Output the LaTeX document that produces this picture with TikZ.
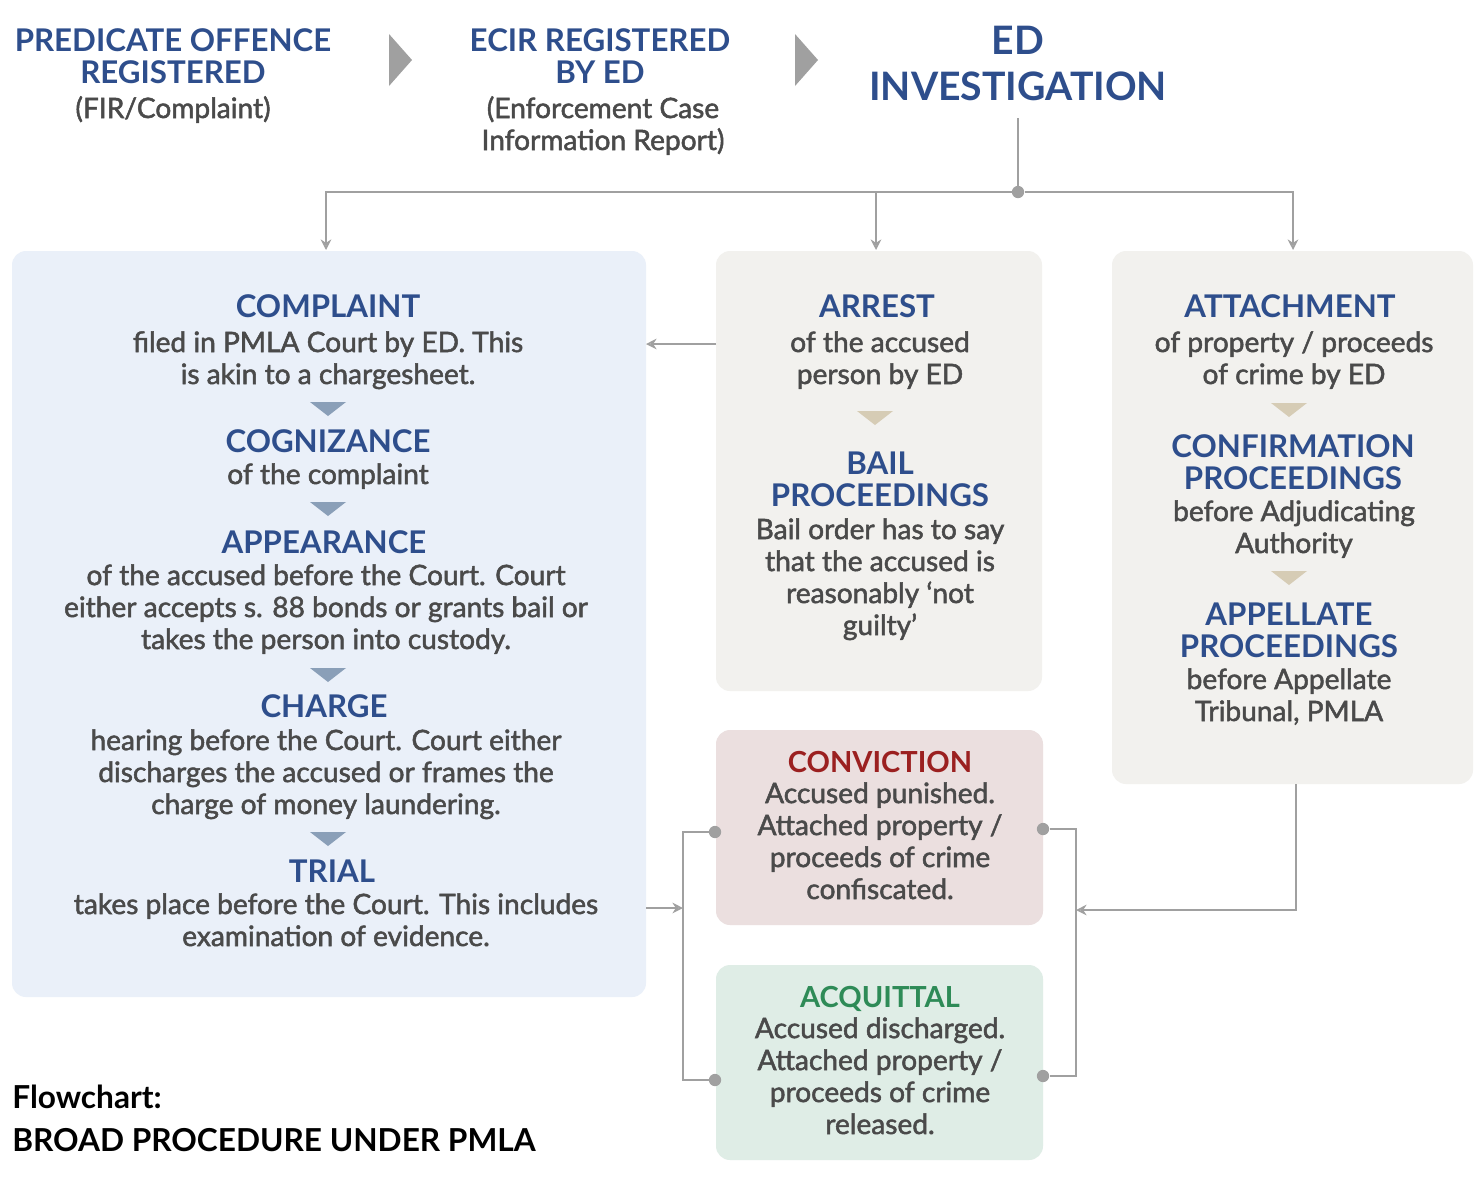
\documentclass[tikz,border=0pt]{standalone}
\usepackage{fontspec}
\setmainfont{Lato}
\usetikzlibrary{arrows.meta}
\usetikzlibrary{positioning}
\definecolor{hblue}{HTML}{2E4E8C}
\definecolor{txt}{HTML}{4A4A4A}
\definecolor{bluebg}{HTML}{EAF0F9}
\definecolor{graybg}{HTML}{F2F1EE}
\definecolor{redbg}{HTML}{EBDFDF}
\definecolor{greenbg}{HTML}{DFEDE6}
\definecolor{hred}{HTML}{9B2020}
\definecolor{hgreen}{HTML}{2E8B57}
\definecolor{triblue}{HTML}{8A9FB8}
\definecolor{tribeige}{HTML}{D6CCB5}
\definecolor{lgray}{HTML}{A0A0A0}
\tikzstyle{box}=[rounded corners=8pt]
\tikzstyle{head}=[anchor=base,align=center,text=hblue,font=\bfseries\fontsize{17.8}{18.2}\selectfont]
\tikzstyle{body}=[anchor=base,align=center,text=txt,font=\fontsize{16}{18.2}\selectfont\addfontfeatures{FakeBold=1.8}]
\tikzstyle{tran}=[draw=lgray,line width=1.4pt,-{Stealth[length=6pt,width=6pt,open]}]
\tikzstyle{wire}=[draw=lgray,line width=1.4pt]
\tikzstyle{dot}=[circle,fill=lgray,inner sep=0pt,minimum size=7pt]
\newcommand{\tri}[3]{\fill[#3] (#1-18,#2-7) -- (#1+18,#2-7) -- (#1,#2+7) -- cycle;}
\begin{document}
\begin{tikzpicture}[x=0.02cm,y=-0.02cm]
\useasboundingbox[fill=white] (0,0) rectangle (1484,1188);
% top row
\node[head] (pred) at (173,83) {PREDICATE OFFENCE\\REGISTERED};
\node[body] (fir) at (173,118) {(FIR/Complaint)};
\fill[lgray] (389,34) -- (412,60) -- (389,86) -- cycle;
\node[head] (ecir) at (600,83) {ECIR REGISTERED\\BY ED};
\node[body] (ecirtxt) at (603,150) {(Enforcement Case\\Information Report)};
\fill[lgray] (795,34) -- (818,60) -- (795,86) -- cycle;
\node[head,font=\bfseries\fontsize{22.3}{26}\selectfont] (ed) at (1018,100) {ED\\INVESTIGATION};
% boxes
\fill[box,bluebg] (12,251) rectangle (646,997);
\fill[box,graybg] (716,251) rectangle (1042,691);
\fill[box,graybg] (1112,251) rectangle (1473,784);
\fill[box,redbg] (716,730) rectangle (1043,925);
\fill[box,greenbg] (716,965) rectangle (1043,1160);
\coordinate (edb) at (1018,118);
\node[dot] (split) at (1018,192) {};
\coordinate (inL) at (326,250);
\coordinate (inM) at (876,250);
\coordinate (inR) at (1293,250);
\draw[wire] (edb) -- (split);
\draw[tran] (split) -- (split-|inL) -- (inL);
\draw[tran] (split) -- (split-|inR) -- (inR);
\draw[tran] (split-|inM) -- (inM);
% left column
\node[head] (compl) at (328,317) {COMPLAINT};
\node[body] (compltxt) at (328,384) {filed in PMLA Court by ED. This\\is akin to a chargesheet.};
\tri{328}{409}{triblue}
\node[head] (cogn) at (328,452) {COGNIZANCE};
\node[body] (cogntxt) at (328,484) {of the complaint};
\tri{328}{509}{triblue}
\node[head] (appear) at (324,553) {APPEARANCE};
\node[body] (appeartxt) at (326,649) {of the accused before the Court. Court\\either accepts s. 88 bonds or grants bail or\\takes the person into custody.};
\tri{328}{675}{triblue}
\node[head] (charge) at (324,717) {CHARGE};
\node[body] (chargetxt) at (326,814) {hearing before the Court. Court either\\discharges the accused or frames the\\charge of money laundering.};
\tri{328}{839}{triblue}
\node[head] (trial) at (332,882) {TRIAL};
\node[body] (trialtxt) at (336,946) {takes place before the Court. This includes\\examination of evidence.};
% middle column
\node[head] (arrest) at (877,317) {ARREST};
\node[body] (arresttxt) at (880,384) {of the accused\\person by ED};
\tri{875}{418}{tribeige}
\node[head] (bail) at (880,506) {BAIL\\PROCEEDINGS};
\node[body] (bailtxt) at (880,635) {Bail order has to say\\that the accused is\\reasonably ‘not\\guilty’};
% right column
\node[head] (attach) at (1290,317) {ATTACHMENT};
\node[body] (attachtxt) at (1294,384) {of property / proceeds\\of crime by ED};
\tri{1289}{410}{tribeige}
\node[head] (confirm) at (1293,489) {CONFIRMATION\\PROCEEDINGS};
\node[body] (confirmtxt) at (1294,553) {before Adjudicating\\Authority};
\tri{1289}{578}{tribeige}
\node[head] (appell) at (1289,657) {APPELLATE\\PROCEEDINGS};
\node[body] (appelltxt) at (1289,721) {before Appellate\\Tribunal, PMLA};
% outcomes
\node[head,text=hred,font=\bfseries\fontsize{16.5}{18.2}\selectfont] (conv) at (880,772) {CONVICTION};
\node[body] (convtxt) at (880,899) {Accused punished.\\Attached property /\\proceeds of crime\\confiscated.};
\node[head,text=hgreen,font=\bfseries\fontsize{16.5}{18.2}\selectfont] (acq) at (880,1007) {ACQUITTAL};
\node[body] (acqtxt) at (880,1134) {Accused discharged.\\Attached property /\\proceeds of crime\\released.};
% connectors
\coordinate (arrL) at (716,344);
\coordinate (complR) at (646,344);
\draw[tran] (arrL) -- (complR);
\coordinate (trialR) at (646,908);
\coordinate (jn) at (683,908);
\node[dot] (convL) at (715,832) {};
\node[dot] (acqL) at (715,1080) {};
\draw[wire] (convL) -- (683,832) -- (683,1080) -- (acqL);
\draw[tran] (trialR) -- (jn);
\node[dot] (convR) at (1043,829) {};
\node[dot] (acqR) at (1043,1076) {};
\draw[wire] (convR) -- (1076,829) -- (1076,1076) -- (acqR);
\coordinate (attB) at (1296,784);
\coordinate (jr) at (1076,910);
\draw[tran] (attB) -- (attB|-jr) -- (jr);
% caption
\node[anchor=base west,inner sep=0pt,font=\bfseries\fontsize{18}{18}\selectfont] (cap1) at (12,1108) {Flowchart:};
\node[anchor=base west,inner sep=0pt,font=\bfseries\fontsize{18}{18}\selectfont] (cap2) at (12,1151) {BROAD PROCEDURE UNDER PMLA};
\end{tikzpicture}
\end{document}
